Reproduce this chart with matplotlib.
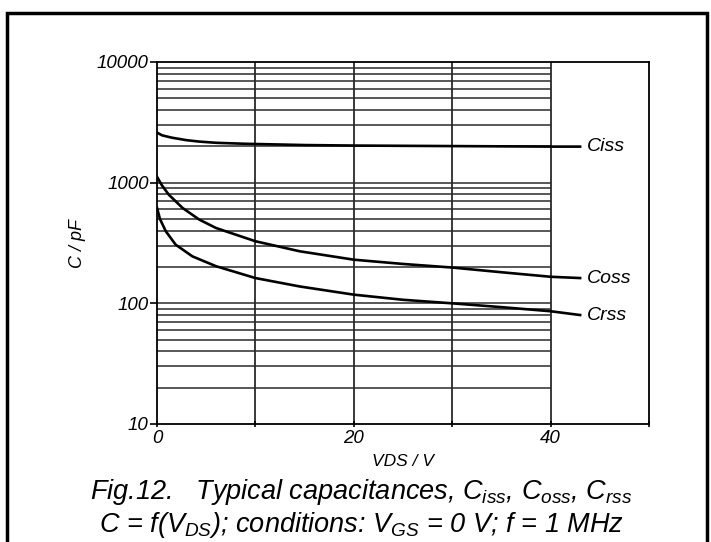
import matplotlib
matplotlib.use("Agg")
import matplotlib.pyplot as plt
from matplotlib.patches import Rectangle

plt.rcParams['font.family'] = ['Liberation Sans', 'DejaVu Sans']
plt.rcParams['mathtext.fontset'] = 'custom'
plt.rcParams['mathtext.rm'] = 'Liberation Sans:italic'
plt.rcParams['mathtext.it'] = 'Liberation Sans:italic'
plt.rcParams['mathtext.bf'] = 'Liberation Sans:italic:bold'

# ---- data ----
vds_ciss = [0, 0.5, 1.5, 3, 4.3, 6, 9, 15, 20, 30, 40, 43]
ciss = [2600, 2470, 2360, 2250, 2190, 2140, 2100, 2050, 2030, 2010, 1990, 1990]

vds_coss = [0, 0.5, 1.2, 2.6, 4.3, 6, 7.7, 10, 14.5, 20, 25, 30, 35, 40, 43]
coss = [1120, 950, 795, 617, 494, 421, 378, 327, 270, 230, 212, 198, 181, 166, 162]

vds_crss = [0, 0.3, 0.9, 1.9, 3.6, 6, 10, 14.5, 20, 25, 30, 35, 40, 43]
crss = [620, 500, 395, 306, 245, 203, 162, 138, 118, 107, 100, 93, 86, 80]

labels = ["Ciss", "Coss", "Crss"]
label_y = [1990, 162, 80]

x_ticks = [0, 10, 20, 30, 40, 50]
x_ticklabels = ["0", "", "20", "", "40", ""]
y_ticks = [10, 100, 1000, 10000]
y_ticklabels = ["10", "100", "1000", "10000"]

fig = plt.figure(figsize=(7.11, 5.42), dpi=100)
ax = fig.add_axes([157/711, 1-424/542, (649-157)/711, (424-62)/542])

ax.set_yscale('log')
ax.set_xlim(0, 50)
ax.set_ylim(10, 10000)

gcol = '#2a2a2a'
# horizontal grid lines (log minor + major), only up to x=40
for dec in [10, 100, 1000]:
    for m in range(1, 10):
        v = dec * m
        if v == 10:
            continue
        ax.hlines(v, 0, 40, color=gcol, lw=1.1, zorder=1)
for xv in [10, 20, 30, 40]:
    ax.axvline(xv, color=gcol, lw=1.3, zorder=1)

ax.plot(vds_ciss, ciss, color='black', lw=1.9, zorder=3, solid_joinstyle='round')
ax.plot(vds_coss, coss, color='black', lw=1.9, zorder=3, solid_joinstyle='round')
ax.plot(vds_crss, crss, color='black', lw=1.9, zorder=3, solid_joinstyle='round')

for lab, yv in zip(labels, label_y):
    ax.text(43.7, yv, lab, fontsize=14, style='italic', va='center', ha='left')

ax.set_xticks(x_ticks)
ax.set_xticklabels(x_ticklabels, fontsize=13.5, style='italic')
ax.set_yticks(y_ticks)
ax.set_yticklabels(y_ticklabels, fontsize=13.5, style='italic')
ax.yaxis.set_minor_locator(matplotlib.ticker.NullLocator())
ax.tick_params(axis='y', length=5, width=1.2, pad=1)
ax.tick_params(axis='x', length=4, width=1.2, pad=2, direction='inout')
for s in ax.spines.values():
    s.set_linewidth(1.3)

ax.set_xlabel("VDS / V", fontsize=12.5, style='italic', labelpad=5)
ax.set_ylabel("C / pF", fontsize=13, style='italic', labelpad=8)

fig.text(0.508, 1-499/542, r"Fig.12.   Typical capacitances, $C_{iss}$, $C_{oss}$, $C_{rss}$",
         fontsize=19.5, style='italic', ha='center', va='baseline')
fig.text(0.508, 1-532/542, r"$C$ = f($V_{DS}$); conditions: $V_{GS}$ = 0 V; f = 1 MHz",
         fontsize=19.5, style='italic', ha='center', va='baseline')

# outer frame
fig.patches.append(Rectangle((7/711, -0.05), 700/711, 1.05 - 13/542, transform=fig.transFigure,
                             fill=False, lw=2.5, edgecolor='black', clip_on=False))

fig.savefig("out.png", dpi=100)
